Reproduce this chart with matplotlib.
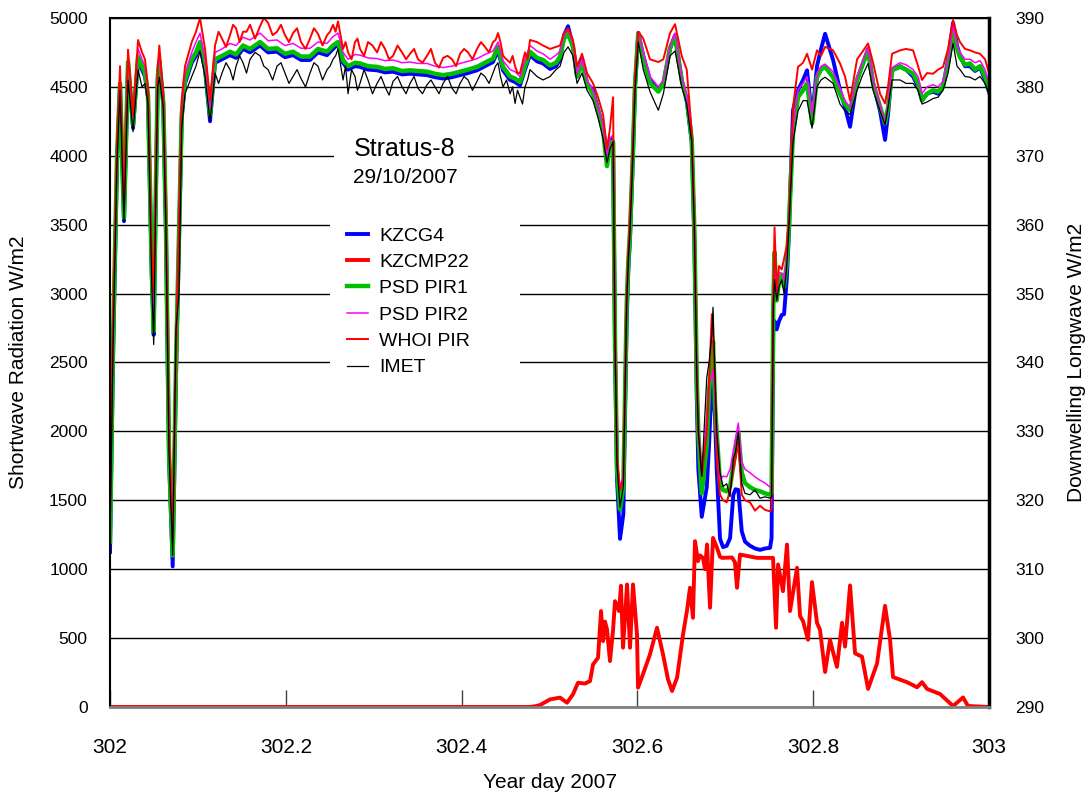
import matplotlib
matplotlib.use("Agg")
import matplotlib.pyplot as plt
from matplotlib.patches import Rectangle

plt.rcParams["font.family"] = ["Liberation Sans", "DejaVu Sans"]

# longwave sensors, common time base (year day 2007)
DAY = [
    302.0000, 302.0034, 302.0080, 302.0114, 302.0159, 302.0205, 302.0262, 302.0319, 302.0364, 302.0398,
    302.0432, 302.0474, 302.0497, 302.0520, 302.0543, 302.0561, 302.0606, 302.0637, 302.0671, 302.0713,
    302.0751, 302.0785, 302.0816, 302.0853, 302.0930, 302.0978, 302.1024, 302.1081, 302.1138, 302.1195,
    302.1274, 302.1365, 302.1434, 302.1513, 302.1593, 302.1707, 302.1798, 302.1900, 302.1991, 302.2082,
    302.2173, 302.2275, 302.2366, 302.2469, 302.2537, 302.2594, 302.2651, 302.2708, 302.2787, 302.2844,
    302.2935, 302.3038, 302.3129, 302.3220, 302.3322, 302.3413, 302.3504, 302.3606, 302.3697, 302.3789,
    302.3891, 302.3982, 302.4073, 302.4175, 302.4266, 302.4357, 302.4414, 302.4471, 302.4551, 302.4608,
    302.4664, 302.4721, 302.4778, 302.4858, 302.4926, 302.5006, 302.5074, 302.5120, 302.5165, 302.5211,
    302.5267, 302.5313, 302.5370, 302.5427, 302.5495, 302.5552, 302.5609, 302.5654, 302.5688, 302.5723,
    302.5745, 302.5768, 302.5802, 302.5840, 302.5878, 302.5897, 302.5916, 302.5947, 302.5973, 302.6010,
    302.6067, 302.6143, 302.6238, 302.6295, 302.6371, 302.6428, 302.6504, 302.6561, 302.6618, 302.6648,
    302.6675, 302.6693, 302.6732, 302.6789, 302.6815, 302.6846, 302.6860, 302.6883, 302.6902, 302.6940,
    302.6974, 302.7016, 302.7054, 302.7091, 302.7116, 302.7148, 302.7187, 302.7224, 302.7281, 302.7338,
    302.7395, 302.7452, 302.7509, 302.7526, 302.7546, 302.7560, 302.7585, 302.7611, 302.7642, 302.7668,
    302.7699, 302.7725, 302.7736, 302.7770, 302.7827, 302.7884, 302.7930, 302.7987, 302.8043, 302.8089,
    302.8135, 302.8226, 302.8305, 302.8362, 302.8419, 302.8499, 302.8555, 302.8624, 302.8681, 302.8760,
    302.8817, 302.8851, 302.8897, 302.8988, 302.9056, 302.9136, 302.9193, 302.9238, 302.9295, 302.9363,
    302.9420, 302.9477, 302.9534, 302.9591, 302.9636, 302.9670, 302.9727, 302.9784, 302.9841, 302.9898,
    302.9955, 303.0000,
]

KZCG4 = [
    312.5, 340, 369, 380, 360.5, 383, 374, 384, 382.5, 381.5,
    378.5, 353, 344, 363, 381, 383.5, 377.5, 358.5, 326, 310.4,
    338, 358, 375.5, 380.5, 383.5, 384.5, 386, 382.5, 375, 383.5,
    384, 384.6, 384.2, 385.5, 385, 386, 385, 385.1, 384.3, 384.6,
    383.9, 383.9, 385, 384.6, 385.5, 386.2, 383.5, 382.5, 383, 382.9,
    382.5, 382.4, 382.1, 382.2, 381.8, 381.9, 381.8, 381.7, 381.4, 381.2,
    381.4, 381.7, 382, 382.4, 383, 383.6, 385.3, 382.4, 381, 380.7,
    380.2, 382.5, 384.6, 383.7, 383.4, 382.6, 383, 384, 387.5, 388.8,
    385.8, 381.5, 384, 380.5, 379.5, 376.8, 374, 370, 372.5, 372,
    342, 323, 314.4, 318, 346, 353.5, 358, 369, 380, 387.8,
    384.5, 381, 379.5, 380.5, 385.5, 387.5, 381, 378, 372, 357.5,
    335, 324.5, 317.6, 321.9, 328, 337.8, 336, 332, 324.5, 314.4,
    313.2, 313.4, 314.5, 320.8, 321.6, 321.5, 315.5, 314, 313.4, 313,
    312.8, 313, 313.1, 314.5, 345, 346, 344.8, 346, 346.9, 347,
    352, 359, 364, 376.6, 379.5, 381, 382.4, 375.5, 383, 385.5,
    387.7, 383.9, 379.5, 377, 374.2, 381, 383, 385.5, 380.5, 376.5,
    372.3, 376, 382.5, 383, 382.5, 381.5, 380, 378, 379, 379.3,
    379, 380, 384, 389.3, 386, 384.5, 383, 383, 382.3, 382.8,
    381, 379.2,
]

PSD_PIR1 = [
    314, 343, 370, 380.5, 361, 383.6, 374.5, 384.4, 383, 382,
    378.8, 354, 344.5, 364, 381.4, 383.8, 377.7, 359, 327, 312,
    340, 359, 376, 381, 384, 385, 386.5, 383, 376, 384,
    384.5, 385.1, 384.7, 386, 385.5, 386.5, 385.5, 385.6, 384.8, 385.1,
    384.4, 384.4, 385.5, 385.1, 386, 386.5, 383.9, 383, 383.5, 383.4,
    383, 382.9, 382.6, 382.7, 382.3, 382.4, 382.3, 382.2, 381.9, 381.7,
    381.9, 382.2, 382.5, 382.9, 383.5, 384.1, 385.8, 382.9, 381.5, 381.2,
    380.7, 383, 385.1, 384.2, 383.9, 383.1, 383.5, 384.4, 387, 387.7,
    385.8, 381.5, 383.5, 380.5, 379, 376.6, 373.7, 368.5, 372, 372,
    343, 324.5, 318.7, 322, 348.5, 354.8, 359, 369.7, 380.4, 387.8,
    384, 380.6, 379.3, 380.4, 385.7, 387.3, 380.9, 378.2, 372.4, 359.1,
    337.8, 329.8, 321, 328, 336, 340, 343, 334, 329.8, 322.4,
    321.5, 321.3, 322, 325, 327.5, 329.8, 324, 322.5, 321.9, 321.5,
    321.3, 321, 320.8, 321, 348.5, 356, 349, 352, 352.7, 351,
    354.3, 360, 363.6, 373.2, 378.5, 379.5, 380.5, 374.7, 381.4, 382.5,
    382.9, 381.4, 379, 377.5, 376.6, 381, 383, 385.3, 380.5, 377.1,
    374.7, 377, 382.4, 382.9, 382.5, 381.9, 380.5, 378.1, 379, 379.5,
    379.3, 380, 383.5, 388.2, 385.5, 384.3, 383.2, 383.4, 382.5, 383,
    381.5, 379.5,
]

PSD_PIR2 = [
    318, 345, 371, 381.5, 362, 384.5, 375.5, 385.5, 384, 383,
    379.5, 355, 346, 365, 382, 385, 378.5, 360, 329, 317,
    342, 360, 377, 382, 385, 386.5, 387.8, 384, 377, 385,
    385.5, 386.3, 386, 387.2, 386.8, 387.8, 386.7, 386.8, 386, 386.3,
    385.6, 385.6, 386.5, 386.3, 387.3, 387.8, 385, 384, 384.7, 384.6,
    384.2, 384.1, 383.8, 383.9, 383.5, 383.6, 383.4, 383.4, 383, 382.8,
    383, 383.4, 383.7, 384.1, 384.7, 385.2, 386.5, 383.8, 382.5, 382.2,
    381.5, 384, 386, 385.2, 384.8, 384, 384.6, 385.2, 387.5, 388.3,
    386.3, 382, 384, 381, 379.5, 377, 374.5, 370, 372.5, 373,
    344, 326, 321.9, 323.5, 349, 355.5, 359.5, 370.5, 381, 388,
    385, 381.5, 380, 381, 386, 387.8, 381.5, 378.8, 373, 360,
    338.5, 331, 324, 332, 337, 337.8, 339, 335, 331, 322.9,
    323.5, 323.4, 324.5, 327.2, 329, 331.2, 325.6, 324.5, 324, 323.4,
    322.9, 322.5, 321.9, 322, 349, 354, 350, 353, 353, 352,
    355, 361, 364, 374, 379.5, 380.5, 381.5, 376, 382, 383,
    383.3, 382.2, 379.8, 378, 377, 381.5, 383.5, 385.7, 381, 377.5,
    374.7, 377.5, 382.8, 383.5, 383.2, 382.5, 381.5, 379, 380, 380.3,
    380, 380.8, 384, 388.8, 386, 385, 384, 384, 383.5, 383.8,
    382.5, 380.5,
]

WHOI_PIR = [
    318, 346, 372, 383, 363, 385.4, 376, 386.8, 385, 384,
    380, 356, 350, 366, 383, 386, 379, 361, 330, 314.4,
    342, 361, 378, 383, 386.5, 388, 390, 385.5, 378, 386,
    387, 387.5, 388.5, 388, 389, 388.8, 389.3, 388, 387.5, 387.8,
    386.5, 387, 387.7, 387.5, 389, 389.5, 385.5, 385, 386.5, 385.5,
    386.5, 385, 385.5, 384.5, 385, 384.8, 384, 384.5, 383.5, 384.2,
    384, 384.8, 385, 385.5, 385.8, 386.5, 387.8, 384.5, 383.5, 383,
    382, 385, 386.8, 386.5, 386, 385.5, 385.8, 386, 387.8, 388.5,
    386.8, 383, 384.8, 382, 380.5, 378.5, 376, 371, 374, 378.5,
    345, 326, 321.5, 323, 350, 356, 361.5, 371, 381.5, 388,
    387, 384, 383.6, 384, 387.8, 389.1, 384.5, 382.5, 373.5, 360,
    338, 330, 323.5, 330, 337, 347, 344, 336, 326, 320.8,
    320, 319.7, 321.5, 324.5, 326, 328.5, 320.8, 320, 319.7, 318.5,
    319.2, 318.6, 318.4, 318.8, 350, 359.6, 350.5, 354, 353.5, 355,
    357, 361, 365, 377, 382.9, 383.5, 384.8, 382.5, 385.3, 384.5,
    385.8, 385.3, 383.4, 381.5, 378, 384, 385, 386.3, 383.5, 379,
    377.6, 380, 384.8, 385.3, 385.5, 385.3, 383, 381, 382, 381.9,
    382.5, 382.9, 385.5, 389.7, 387.5, 386.5, 385.5, 385.3, 385, 384.8,
    384, 382,
]

IMET = [
    314, 342, 369, 379.5, 360.5, 381, 373.5, 382.5, 380, 380.5,
    377.5, 352, 342.6, 363, 380, 381.4, 377, 358.5, 327, 312,
    345, 350, 374, 379, 381.5, 383, 385.2, 381.5, 375, 382,
    382, 382.5, 383, 383.5, 384, 384.5, 382.5, 383, 382, 381.5,
    381.2, 382, 383, 382.5, 384, 385.5, 381, 379, 381.5, 380.5,
    381, 380.5, 380, 380.8, 380, 380.5, 379.8, 380.3, 380, 380.5,
    379.8, 380.5, 381, 380.8, 381.5, 382, 383.5, 380, 379, 377.6,
    378.5, 380, 382.5, 381.5, 381, 381.5, 382.5, 383, 385, 385.8,
    384.5, 380.5, 382, 379.5, 378, 375.5, 372.5, 369, 371, 372,
    343, 325, 319, 322, 348.5, 355, 359, 369.5, 379.5, 386.5,
    382.5, 379.3, 376.6, 379, 384.5, 385.2, 380, 377.5, 372, 359.5,
    338, 330, 323.5, 337.8, 340, 344, 348, 338, 330, 324,
    322, 322.4, 320.5, 326, 327, 330, 322.5, 321, 320.8, 321.5,
    320.3, 320.5, 320.3, 320.5, 348, 352, 349, 351, 352, 350,
    354, 360, 363, 372, 376.5, 378, 378, 374, 380, 381,
    381.4, 380.5, 377.5, 376.5, 376, 379.5, 381.5, 383.4, 379.5, 376.5,
    374.5, 377, 381, 381, 380.5, 380.5, 379.5, 377.5, 377.8, 378.3,
    378.5, 379.5, 382, 386.3, 383, 382.5, 381.5, 381.4, 381, 381.5,
    380.5, 379,
]

# extra readings of the two noisy sensors (IMET, WHOI PIR) in the quiet stretch
NOISE_DAY = [
    302.1235, 302.1320, 302.1400, 302.1475, 302.1553, 302.1650, 302.1750, 302.1850, 302.1945, 302.2036,
    302.2128, 302.2224, 302.2320, 302.2418, 302.2503, 302.2566, 302.2680, 302.2748, 302.2815, 302.2890,
    302.2986, 302.3083, 302.3175, 302.3271, 302.3368, 302.3459, 302.3555, 302.3651, 302.3743, 302.3840,
    302.3937, 302.4028, 302.4124, 302.4220, 302.4312, 302.4386, 302.4442, 302.4511, 302.4580, 302.4636,
    302.4693, 302.4750,
]
IMET_NOISE = [
    380.5, 383.5, 381, 384.5, 382, 385, 383, 381, 383.5, 380.5,
    382.5, 380, 383.5, 381, 383, 384.5, 383, 382.5, 379.5, 382.5,
    379, 381.5, 378.8, 381.5, 379, 381.5, 379, 381, 379, 381.5,
    379, 381.5, 379.5, 382, 380.5, 383, 381.5, 381, 380, 379.5,
    377.5, 381,
]
WHOI_NOISE = [
    388, 385.8, 389, 386.5, 388, 387, 390, 387.5, 389, 386.5,
    388.5, 385.5, 388.5, 386, 388, 388, 386.5, 384, 387, 384.5,
    386, 386.5, 384, 386, 384, 385.5, 383.5, 385.5, 382.8, 384.5,
    383, 385.5, 384, 386.5, 385, 386.8, 386.5, 384, 384.5, 382,
    383.5, 384,
]

# shortwave pyranometer
SW_DAY = [
    302.0000, 302.4778, 302.4835, 302.4892, 302.5006, 302.5120, 302.5199, 302.5267, 302.5324, 302.5404,
    302.5461, 302.5495, 302.5552, 302.5586, 302.5609, 302.5631, 302.5654, 302.5688, 302.5723, 302.5745,
    302.5791, 302.5813, 302.5836, 302.5859, 302.5882, 302.5916, 302.5950, 302.5995, 302.6007, 302.6063,
    302.6143, 302.6223, 302.6291, 302.6348, 302.6394, 302.6451, 302.6519, 302.6564, 302.6598, 302.6632,
    302.6655, 302.6689, 302.6712, 302.6746, 302.6769, 302.6792, 302.6826, 302.6860, 302.6906, 302.6940,
    302.6962, 302.7076, 302.7110, 302.7133, 302.7167, 302.7361, 302.7543, 302.7577, 302.7600, 302.7656,
    302.7702, 302.7736, 302.7816, 302.7850, 302.7884, 302.7941, 302.7986, 302.8043, 302.8077, 302.8135,
    302.8191, 302.8225, 302.8270, 302.8328, 302.8362, 302.8419, 302.8476, 302.8555, 302.8624, 302.8726,
    302.8817, 302.8874, 302.8908, 302.9067, 302.9181, 302.9238, 302.9295, 302.9443, 302.9591, 302.9704,
    302.9761, 303.0000,
]

KZCMP22 = [
    0, 0, 5, 14, 55, 68, 31, 92, 176, 170,
    188, 309, 357, 696, 478, 620, 563, 333, 560, 768,
    696, 880, 430, 650, 889, 430, 889, 527, 140, 237,
    382, 575, 382, 200, 116, 213, 527, 700, 865, 647,
    1203, 1058, 1100, 1082, 1000, 1179, 720, 1227, 1154, 1090,
    1082, 1085, 1050, 865, 1106, 1082, 1082, 575, 1034, 840,
    1179, 696, 1010, 660, 623, 488, 906, 611, 560, 254,
    488, 400, 291, 611, 438, 882, 389, 365, 131, 315,
    734, 488, 217, 180, 143, 180, 131, 94, 7, 69,
    7, 0,
]

XTICKS = [302, 302.2, 302.4, 302.6, 302.8, 303]
XTICK_LABELS = ["302", "302.2", "302.4", "302.6", "302.8", "303"]
SW_TICKS = list(range(0, 5001, 500))
LW_TICKS = list(range(290, 391, 10))


def _merge(day, values, extra_day, extra_values):
    pairs = sorted(zip(list(day) + list(extra_day), list(values) + list(extra_values)))
    return [p[0] for p in pairs], [p[1] for p in pairs]


imet_day, imet = _merge(DAY, IMET, NOISE_DAY, IMET_NOISE)
whoi_day, whoi = _merge(DAY, WHOI_PIR, NOISE_DAY, WHOI_NOISE)

fig = plt.figure(figsize=(10.86, 7.94), dpi=100)
ax = fig.add_axes([0.1013, 0.1096, 0.8094, 0.8678])
ax2 = ax.twinx()

ax.set_xlim(302, 303)
ax.set_ylim(0, 5000)
ax2.set_ylim(290, 390)

ax.set_axisbelow(True)
ax.set_yticks(SW_TICKS)
ax.grid(axis="y", color="black", lw=1)
ax.set_xticks(XTICKS)
ax.set_xticklabels(XTICK_LABELS)
ax2.set_yticks(LW_TICKS)

# white backing behind title and legend (hides the grid there)
ax.add_patch(Rectangle((0.255, 0.747), 0.152, 0.09, transform=ax.transAxes,
                       facecolor="white", edgecolor="none", zorder=1.5))
ax.add_patch(Rectangle((0.250, 0.4456), 0.216, 0.283, transform=ax.transAxes,
                       facecolor="white", edgecolor="none", zorder=1.5))

l_cmp, = ax.plot(SW_DAY, KZCMP22, color="#ff0000", lw=2.8, zorder=3)

l_cg4, = ax2.plot(DAY, KZCG4, color="#0000ff", lw=2.8)
l_p1, = ax2.plot(DAY, PSD_PIR1, color="#00c000", lw=3.2)
l_p2, = ax2.plot(DAY, PSD_PIR2, color="#ff00ff", lw=1.1)
l_whoi, = ax2.plot(whoi_day, whoi, color="#ff0000", lw=1.4)
l_imet, = ax2.plot(imet_day, imet, color="black", lw=0.9)

for s in ax.spines.values():
    s.set_visible(False)
ax2.spines["left"].set_linewidth(1.5)
ax2.spines["top"].set_linewidth(1.5)
ax2.spines["right"].set_linewidth(2.5)
ax2.spines["bottom"].set_color("#808080")
ax2.spines["bottom"].set_linewidth(2)

ax.tick_params(axis="y", length=0, pad=16, labelsize=12.5)
ax2.tick_params(axis="y", length=0, pad=19, labelsize=12.5)
ax.tick_params(axis="x", direction="in", length=12, width=1, color="#404040",
               pad=22, labelsize=15)

ax.set_ylabel("Shortwave Radiation W/m2", fontsize=15)
ax.yaxis.set_label_coords(-0.0933, 0.5)
ax2.set_ylabel("Downwelling Longwave W/m2", fontsize=15)
ax2.yaxis.set_label_coords(1.0887, 0.5)
ax.set_xlabel("Year day 2007", fontsize=15)
ax.xaxis.set_label_coords(0.5, -0.0958)

ax.text(0.3356, 0.81, "Stratus-8", transform=ax.transAxes, ha="center", va="center",
        fontsize=18, zorder=4)
ax.text(0.3356, 0.768, "29/10/2007", transform=ax.transAxes, ha="center", va="center",
        fontsize=15, zorder=4)

handles = [l_cg4, l_cmp, l_p1, l_p2, l_whoi, l_imet]
labels = ["KZCG4", "KZCMP22", "PSD PIR1", "PSD PIR2", "WHOI PIR", "IMET"]
ax2.legend(handles, labels, loc="upper left", bbox_to_anchor=(0.2696, 0.6967),
           frameon=False, fontsize=14, handlelength=1.1, handletextpad=0.55,
           labelspacing=0.45, borderpad=0, borderaxespad=0)

fig.savefig("out.png", dpi=100)
